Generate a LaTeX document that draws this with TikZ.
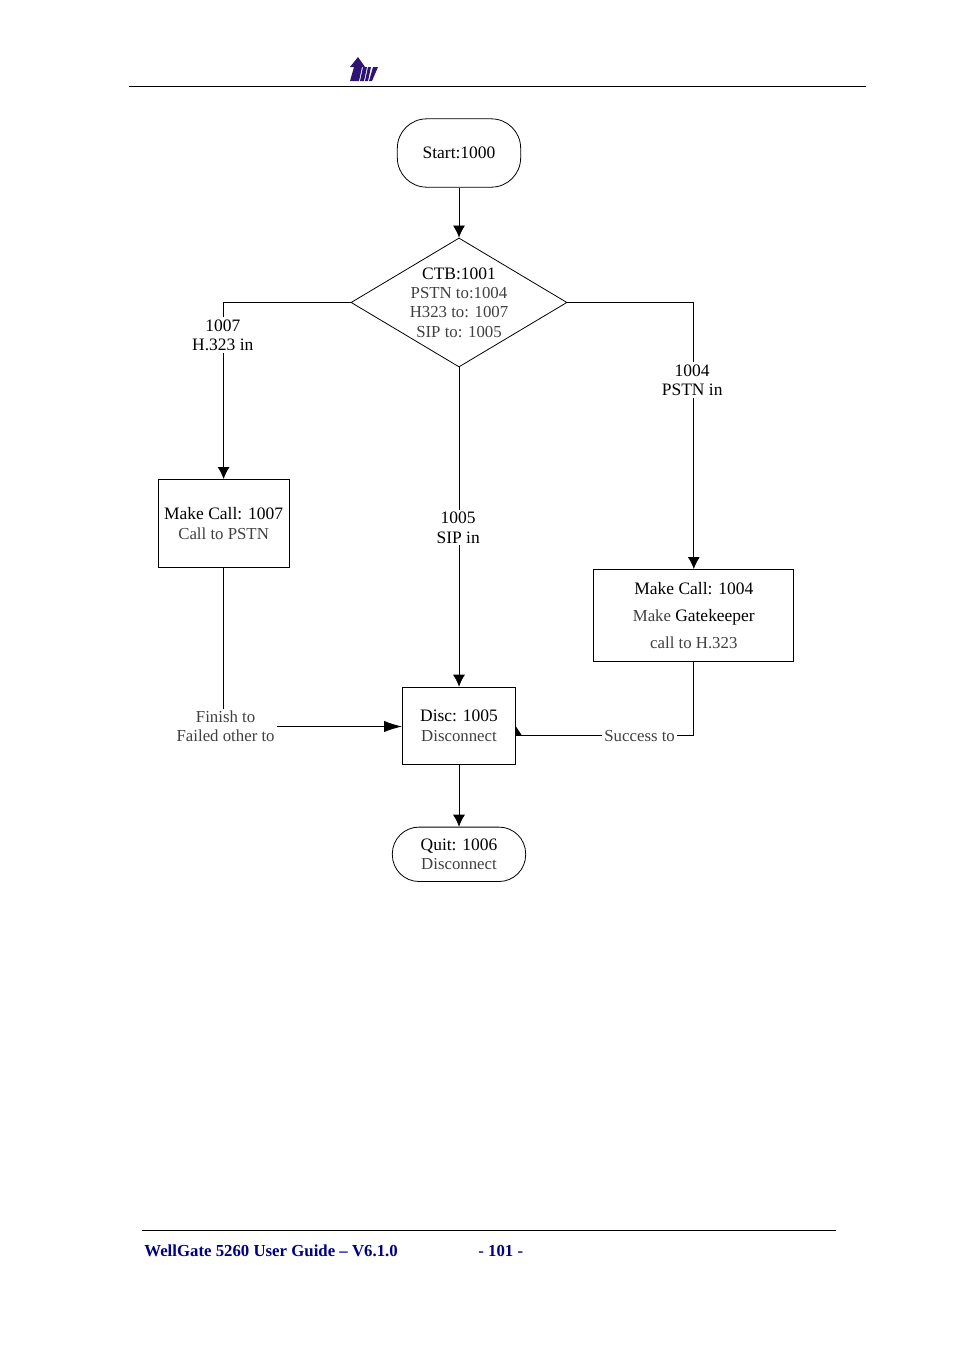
\documentclass[tikz,border=0pt]{standalone}
\usepackage{fontspec}
\setmainfont{Liberation Serif}
\usetikzlibrary{positioning, arrows.meta, shapes.geometric}

\definecolor{thintext}{gray}{0.25}
\definecolor{footblue}{RGB}{0,0,128}
\definecolor{logoblue}{RGB}{46,20,115}
\newcommand{\headline}[1]{{\fontsize{13.1}{14.5}\selectfont #1}}

\begin{document}
\begin{tikzpicture}[
    x=0.75pt, y=-0.75pt,
    line width=0.6pt,
    every node/.style={font=\fontsize{12.6}{14.5}\selectfont, align=center},
    term/.style={rectangle, draw, rounded corners=22pt, inner sep=0pt},
    proc/.style={rectangle, draw, inner sep=0pt},
    tag/.style={fill=white, inner sep=1.5pt, text=thintext},
    flow/.style={-{Latex[length=9pt,width=9pt]}},
    flowlong/.style={-{Latex[length=13.5pt,width=8.5pt]}},
    foot/.style={anchor=base west, inner sep=0pt, text=footblue, font=\fontsize{12.6}{14}\selectfont\bfseries},
    ]
    \useasboundingbox (0,0) rectangle (954,1350);

   % Page head and foot
   \coordinate (head_l) at (129,86);
   \coordinate (head_r) at (866,86);
   \coordinate (foot_l) at (142,1230);
   \coordinate (foot_r) at (836,1230);
   \draw (head_l) -- (head_r);
   \draw (foot_l) -- (foot_r);
   \node[foot] (guide) at (144,1256) {WellGate 5260 User Guide – V6.1.0};
   \node[foot] (page) at (478,1256) {- 101 -};

   % Logo.
   \fill[logoblue] (358,57) -- (365,67) -- (362,67) -- (359,81) -- (350,81) -- (354,67) -- (350,67) -- cycle;
   \fill[logoblue] (363,67) -- (367,67) -- (364,81) -- (360,81) -- cycle;
   \fill[logoblue] (368,67) -- (371,67) -- (368,81) -- (365,81) -- cycle;
   \fill[logoblue] (373,67) -- (378,67) -- (372,81) -- (369,81) -- cycle;

   % Flow boxes
   \node[term, minimum width=92.5pt, minimum height=51.25pt] (start) at (459,153) {\headline{Start:1000}};
   \node[diamond, draw, aspect=1.674, inner sep=0pt, minimum width=162pt, minimum height=96.75pt, below=37.5pt of start] (ctb) {};
   \node[proc, minimum width=98.4pt, minimum height=66pt, below left=132.4pt and 45.75pt of ctb.west] (call_h323) {\headline{Make Call: 1007}\\\textcolor{thintext}{Call to PSTN}};
   \node[proc, minimum width=150pt, minimum height=69pt, below right=199.9pt and 19.5pt of ctb.east] (call_pstn) {\headline{Make Call: 1004}\\[6pt]\textcolor{thintext}{Make} \headline{Gatekeeper}\\[6pt]\textcolor{thintext}{call to H.323}};
   \node[proc, minimum width=84.9pt, minimum height=57.9pt, below=239.5pt of ctb] (disc) {\headline{Disc: 1005}\\\textcolor{thintext}{Disconnect}};
   \node[term, rounded corners=20pt, minimum width=100pt, minimum height=40.8pt, below=46.5pt of disc] (quit) {\headline{Quit: 1006}\\\textcolor{thintext}{Disconnect}};
   \node (ctb_text) at (ctb.center) {\headline{CTB:1001}\\\textcolor{thintext}{PSTN to:1004}\\\textcolor{thintext}{H323 to: 1007}\\\textcolor{thintext}{SIP to: 1005}};

   \node[tag, left=93.75pt of disc, yshift=-0.6pt] (finish) {Finish to\\Failed other to};
   \node[tag, right=64.5pt of disc, yshift=-7.4pt] (success) {Success to};

   \draw[flow] (start) -- (ctb);
   \draw[flow] (ctb.west) -| (call_h323.north);
   \draw[flow] (ctb.east) -| (call_pstn.north);
   \draw[flow] (ctb.south) -- (disc.north);
   \draw (call_h323.south) -- (call_h323.south |- finish.north);
   \draw[flowlong] (finish.east) -- (finish.east -| disc.west);
   \draw (call_pstn.south) |- (success.east);
   \draw (success.west) -- (success.west -| disc.east) coordinate (hit);
   \fill (hit) -- ++(0,-9) -- ++(6,9) -- cycle;
   \draw[flow] (disc) -- (quit);

   % Labels on the lines.
   \node[tag, text=black, above=94.5pt of call_h323, xshift=-0.6pt] (in_h323) {\headline{1007}\\\headline{H.323 in}};
   \node[tag, text=black, above=128.25pt of call_pstn, xshift=-1.2pt] (in_pstn) {\headline{1004}\\\headline{PSTN in}};
   \node[tag, text=black, above=105.75pt of disc, xshift=-0.6pt] (in_sip) {\headline{1005}\\\headline{SIP in}};

\end{tikzpicture}
\end{document}
